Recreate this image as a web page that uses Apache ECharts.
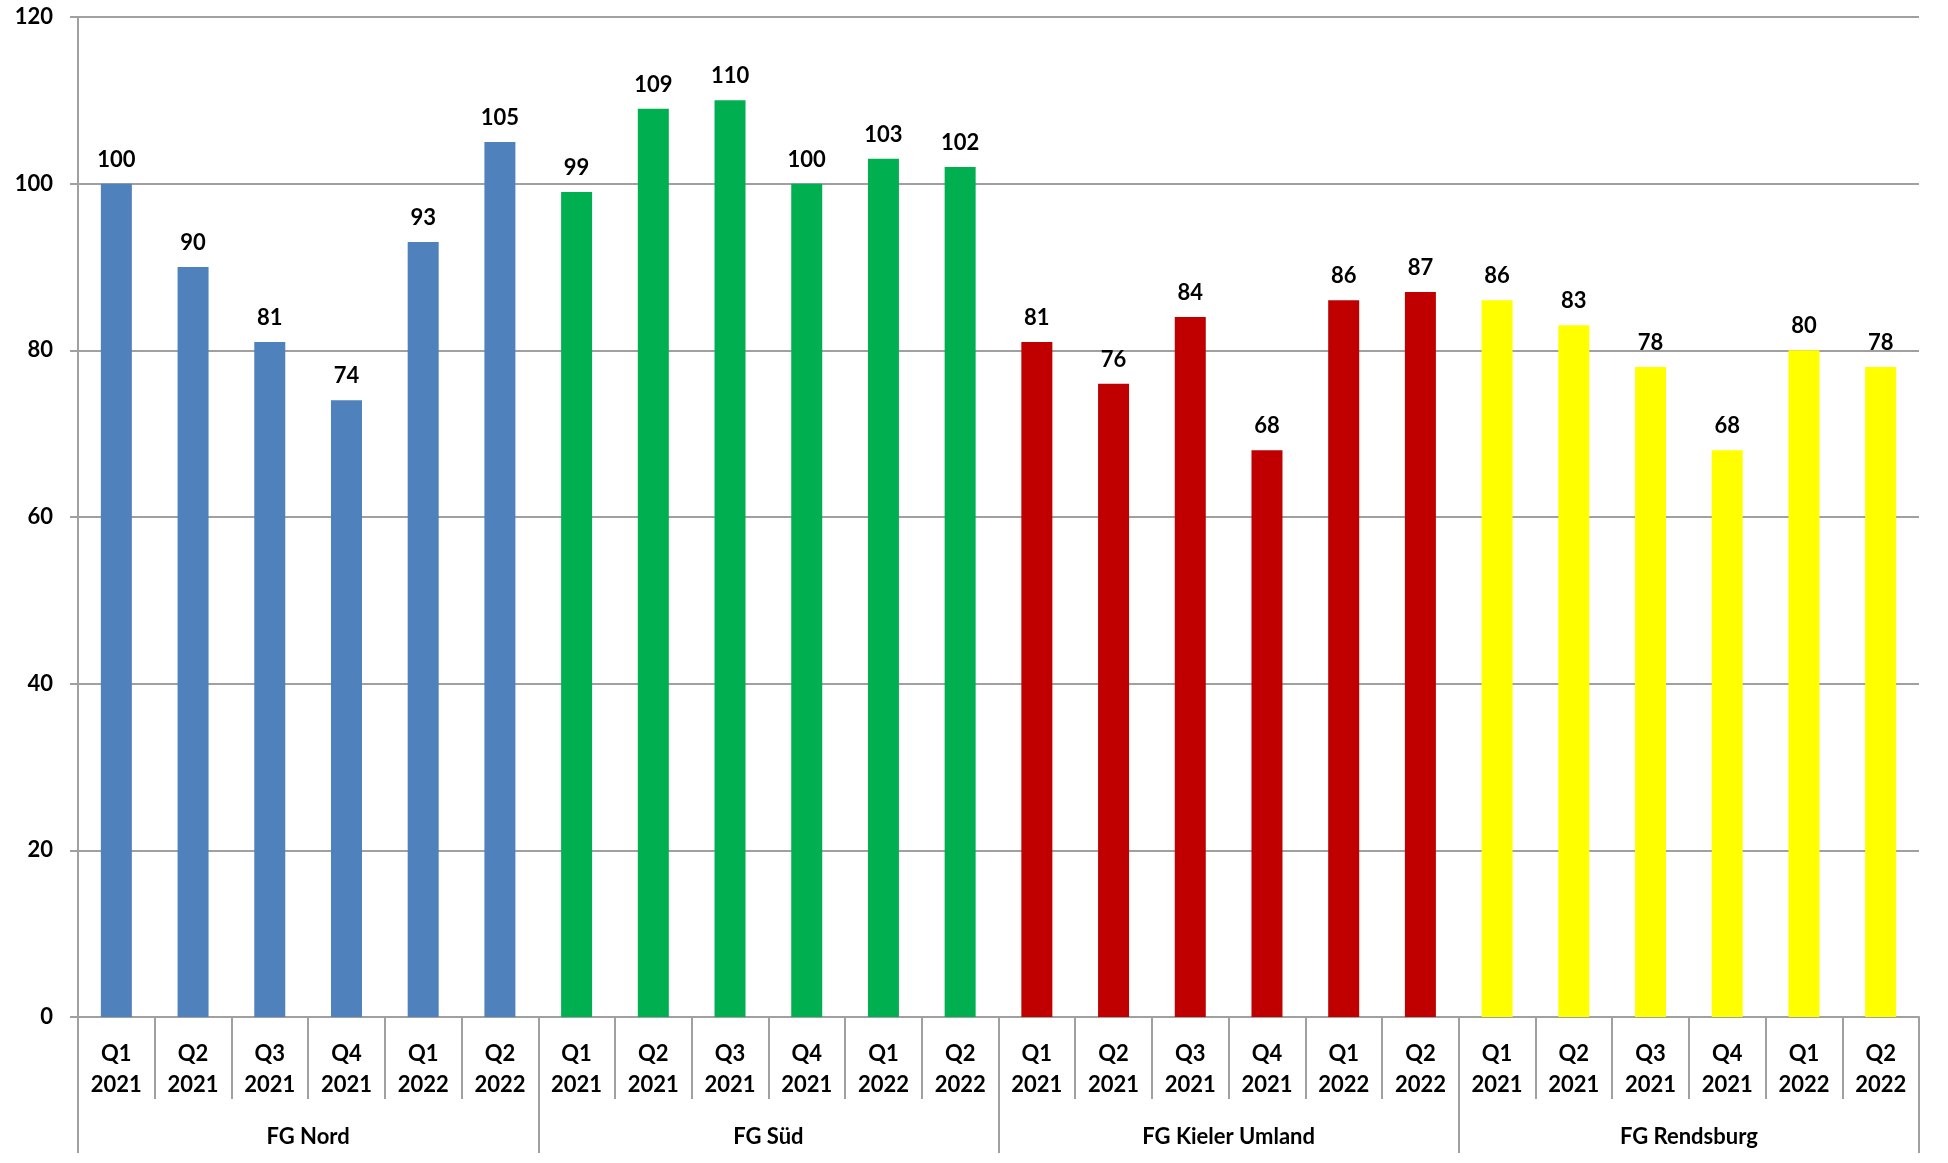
<!DOCTYPE html>
<html>
<head>
<meta charset="utf-8">
<script src="https://cdn.jsdelivr.net/npm/echarts@6/dist/echarts.min.js"></script>
<style>
  html, body { margin: 0; padding: 0; background: #fff; }
  #chart { width: 1948px; height: 1163px; }
</style>
</head>
<body>
<div id="chart"></div>
<script>
  // data
  var groups = ['FG Nord', 'FG Süd', 'FG Kieler Umland', 'FG Rendsburg'];
  var quarters = ['Q1\n2021', 'Q2\n2021', 'Q3\n2021', 'Q4\n2021', 'Q1\n2022', 'Q2\n2022'];
  var nord = [100, 90, 81, 74, 93, 105];
  var sued = [99, 109, 110, 100, 103, 102];
  var kielerUmland = [81, 76, 84, 68, 86, 87];
  var rendsburg = [86, 83, 78, 68, 80, 78];
  var groupColors = ['#4F81BD', '#00B050', '#C00000', '#FFFF00'];

  var groupValues = [nord, sued, kielerUmland, rendsburg];
  var categories = [];
  var barData = [];
  groupValues.forEach(function (vals, g) {
    vals.forEach(function (v, i) {
      categories.push(quarters[i]);
      barData.push({ value: v, itemStyle: { color: groupColors[g] } });
    });
  });

  var font = 'Lato, "Liberation Sans", sans-serif';
  var gray = '#A0A0A0';
  var chart = echarts.init(document.getElementById('chart'));
  chart.setOption({
    animation: false,
    grid: { left: 78, right: 29, top: 17, bottom: 146 },
    xAxis: [
      {
        type: 'category',
        data: categories,
        axisLine: { show: true, lineStyle: { color: gray, width: 2 } },
        axisTick: { show: true, interval: 0, length: 82, lineStyle: { color: gray, width: 2 } },
        axisLabel: {
          interval: 0, margin: 21, color: '#000', fontFamily: font,
          fontWeight: 'bold', fontSize: 22, lineHeight: 31
        }
      },
      {
        type: 'category',
        position: 'bottom',
        data: groups,
        axisLine: { show: false },
        axisTick: { show: true, interval: 0, length: 136, lineStyle: { color: gray, width: 2 } },
        axisLabel: {
          interval: 0, margin: 109, color: '#000', fontFamily: font,
          fontWeight: 'bold', fontSize: 22
        }
      }
    ],
    yAxis: {
      type: 'value',
      min: 0,
      max: 120,
      interval: 20,
      axisLine: { show: true, lineStyle: { color: gray, width: 2 } },
      axisTick: { show: true, length: 8, lineStyle: { color: gray, width: 2 } },
      splitLine: { show: true, lineStyle: { color: gray, width: 2 } },
      axisLabel: {
        margin: 25, color: '#000', fontFamily: font,
        fontWeight: 'bold', fontSize: 22
      }
    },
    series: [
      {
        type: 'bar',
        xAxisIndex: 0,
        data: barData,
        barWidth: 31,
        label: {
          show: true, position: 'top', distance: 13, color: '#000',
          fontFamily: font, fontWeight: 'bold', fontSize: 22
        }
      }
    ]
  });
</script>
</body>
</html>
